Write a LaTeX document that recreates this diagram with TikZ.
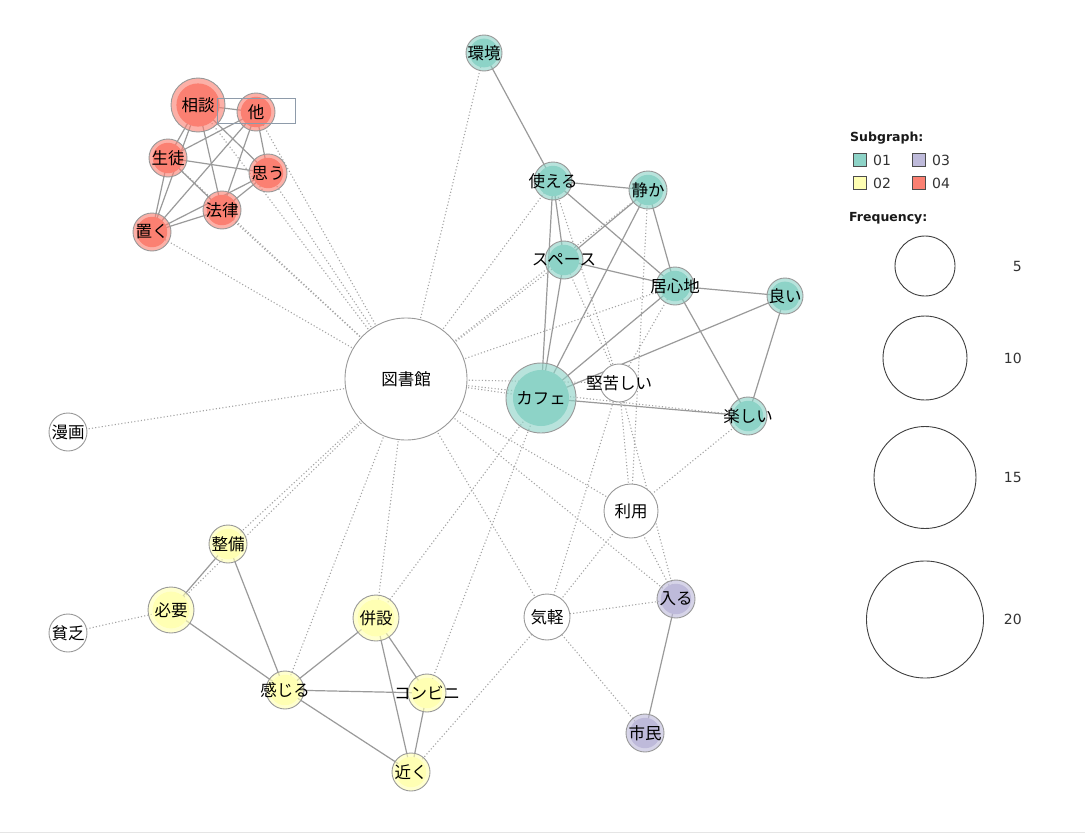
\documentclass[tikz,border=0pt]{standalone}
\usepackage{fontspec}
\setmainfont{DejaVu Sans}
\newfontfamily\jp{Noto Sans CJK JP}
\pgfdeclarelayer{bg}
\pgfsetlayers{bg,main}
\definecolor{cT}{HTML}{8DD3C7}
\definecolor{cY}{HTML}{FFFFB3}
\definecolor{cP}{HTML}{BEBADA}
\definecolor{cR}{HTML}{FB8072}
\definecolor{edgegray}{HTML}{9A9A9A}
\definecolor{boxgray}{HTML}{8E9BAA}
\tikzset{
  gnode/.style={circle, inner sep=0pt, draw=black!40, line width=0.9pt},
  solidedge/.style={draw=edgegray, line width=1.2pt},
  dotedge/.style={draw=edgegray!90, line width=1.1pt, dash pattern=on 1.1pt off 2.2pt},
  lbl/.style={font=\jp\fontsize{16.5}{16.5}\selectfont, text=black, inner sep=0pt},
  sq/.style={draw=black!70, line width=1pt, minimum size=13pt, inner sep=0pt},
  legtxt/.style={font=\fontsize{14}{14}\selectfont, text=black!80, inner sep=0pt},
  leghead/.style={font=\bfseries\fontsize{12.5}{12.5}\selectfont, text=black!90, inner sep=0pt, anchor=west},
  legcirc/.style={circle, draw=black!75, line width=0.9pt, inner sep=0pt}
}
\newcommand{\cn}[6]{%
  \node[gnode, minimum size={2*#4pt}, fill=#5, fill opacity=0.62] (#1) at (#2,#3) {};
  \fill[#5] (#1.center) circle ({0.8*#4pt});
  \node[lbl] (#1-l) at (#1.center) {#6};
}
\newcommand{\wn}[5]{%
  \node[gnode, minimum size={2*#4pt}, fill=white] (#1) at (#2,#3) {};
  \node[lbl] (#1-l) at (#1.center) {#5};
}
\begin{document}
\begin{tikzpicture}[x=1pt,y=-1pt]
\useasboundingbox (0,0) rectangle (1085,835);

% nodes
\wn{tosho}{406}{379}{61}{図書館}
\cn{kankyo}{484}{53}{18}{cT}{環境}
\cn{soudan}{198}{105}{27}{cR}{相談}
\cn{hoka}{256}{112}{19}{cR}{他}
\cn{seito}{168}{158}{19}{cR}{生徒}
\cn{omou}{268}{173}{19}{cR}{思う}
\cn{houritsu}{222}{210}{19}{cR}{法律}
\cn{oku}{152}{232}{19}{cR}{置く}
\cn{tsukaeru}{553}{181}{19}{cT}{使える}
\cn{shizuka}{648}{190}{19}{cT}{静か}
\cn{space}{564}{260}{19}{cT}{スペース}
\cn{igokochi}{675}{286}{19}{cT}{居心地}
\cn{yoi}{785}{296}{18}{cT}{良い}
\cn{cafe}{541}{398}{35}{cT}{カフェ}
\wn{kata}{619}{383}{19}{堅苦しい}
\cn{tanoshii}{748}{416}{19}{cT}{楽しい}
\wn{manga}{68}{432}{19}{漫画}
\wn{riyou}{631}{511}{27}{利用}
\cn{seibi}{228}{544}{19}{cY}{整備}
\cn{hitsuyou}{171}{610}{23}{cY}{必要}
\wn{binbou}{68}{633}{19}{貧乏}
\cn{heisetsu}{376}{618}{23}{cY}{併設}
\wn{kigaru}{547}{617}{23}{気軽}
\cn{hairu}{676}{599}{19}{cP}{入る}
\cn{kanjiru}{285}{690}{19}{cY}{感じる}
\cn{konbini}{427}{693}{19}{cY}{コンビニ}
\cn{chikaku}{411}{772}{19}{cY}{近く}
\cn{shimin}{645}{733}{19}{cP}{市民}

\node[draw=boxgray, line width=1pt, minimum width=78pt, minimum height=25pt, inner sep=0pt] (box) at (256,111) {};

% edges
\begin{pgfonlayer}{bg}
\fill[white] (0,0) rectangle (1085,835);
\draw[black!10, line width=1pt] (0,832) -- (1085,832);
\foreach \a/\b in {tosho/kankyo, tosho/soudan, tosho/hoka, tosho/seito, tosho/omou, tosho/houritsu, tosho/oku,
  tosho/tsukaeru, tosho/space, tosho/shizuka, tosho/igokochi, tosho/cafe, tosho/kata, tosho/tanoshii,
  tosho/manga, tosho/seibi, tosho/hitsuyou, tosho/heisetsu, tosho/kanjiru, tosho/kigaru, tosho/riyou, tosho/hairu,
  hitsuyou/binbou, kata/space, kata/tsukaeru, kata/igokochi, kata/riyou, kata/kigaru, kata/hairu,
  shizuka/riyou, riyou/tanoshii, riyou/kigaru, riyou/hairu, kigaru/hairu, kigaru/shimin, kigaru/chikaku,
  cafe/heisetsu, cafe/konbini}
  \draw[dotedge] (\a.center) -- (\b.center);
\foreach \a/\b in {soudan/hoka, soudan/seito, soudan/omou, soudan/houritsu, soudan/oku,
  hoka/seito, hoka/omou, hoka/houritsu, hoka/oku, seito/omou, seito/houritsu, seito/oku,
  omou/houritsu, omou/oku, houritsu/oku,
  kankyo/tsukaeru, tsukaeru/shizuka, tsukaeru/space, tsukaeru/cafe, tsukaeru/igokochi,
  shizuka/space, shizuka/cafe, shizuka/igokochi, space/igokochi, space/cafe,
  igokochi/yoi, igokochi/cafe, igokochi/tanoshii, yoi/tanoshii, yoi/cafe, cafe/tanoshii,
  hairu/shimin,
  seibi/hitsuyou, seibi/kanjiru, hitsuyou/kanjiru, heisetsu/kanjiru, heisetsu/konbini, heisetsu/chikaku,
  kanjiru/konbini, kanjiru/chikaku, konbini/chikaku}
  \draw[solidedge] (\a.center) -- (\b.center);
\end{pgfonlayer}

% legend
\node[leghead] (lsub) at (850,138) {Subgraph:};
\node[sq, fill=cT] (s1) at (860,159.5) {};
\node[legtxt, anchor=west] (t1) at (873,160) {01};
\node[sq, fill=cP] (s3) at (919,159.5) {};
\node[legtxt, anchor=west] (t3) at (932,160) {03};
\node[sq, fill=cY] (s2) at (860,182.5) {};
\node[legtxt, anchor=west] (t2) at (873,183) {02};
\node[sq, fill=cR] (s4) at (919,182.5) {};
\node[legtxt, anchor=west] (t4) at (932,183) {04};

\node[leghead] (lfreq) at (849,218) {Frequency:};
\node[legcirc, minimum size=60pt] (f5) at (925,266) {};
\node[legcirc, minimum size=84pt] (f10) at (925,358) {};
\node[legcirc, minimum size=102pt] (f15) at (925,477.5) {};
\node[legcirc, minimum size=117pt] (f20) at (925,619.5) {};
\node[legtxt, anchor=east] (n5) at (1022,266) {5};
\node[legtxt, anchor=east] (n10) at (1022,358) {10};
\node[legtxt, anchor=east] (n15) at (1022,477.5) {15};
\node[legtxt, anchor=east] (n20) at (1022,619.5) {20};
\end{tikzpicture}
\end{document}
